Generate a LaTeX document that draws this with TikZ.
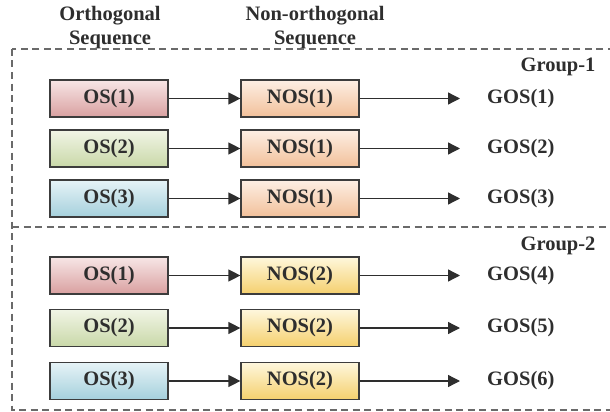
\documentclass[tikz,border=0pt]{standalone}
\usepackage{fontspec}
\setmainfont{Liberation Serif}
\usetikzlibrary{arrows.meta}
\definecolor{txtgray}{HTML}{2E2E2E}
\definecolor{boxline}{HTML}{3C3C3C}
\definecolor{dashgray}{HTML}{6A6A6A}
\definecolor{osatop}{HTML}{F7E6E6}
\definecolor{osabot}{HTML}{D9A0A0}
\definecolor{osbtop}{HTML}{F1F5E6}
\definecolor{osbbot}{HTML}{C9D8A8}
\definecolor{osctop}{HTML}{E6F3F7}
\definecolor{oscbot}{HTML}{A5D0DC}
\definecolor{nosatop}{HTML}{FDEFE4}
\definecolor{nosabot}{HTML}{F2C09A}
\definecolor{nosbtop}{HTML}{FEF7DC}
\definecolor{nosbbot}{HTML}{F5D06E}
\begin{document}
\begin{tikzpicture}[x=1pt,y=-1pt]
			\tikzstyle{seq} = [draw=boxline, line width=1.2pt, minimum width=118pt, minimum height=37pt, inner sep=0pt, text=txtgray, font=\fontsize{20.5}{22}\selectfont\bfseries]
			\tikzstyle{lab} = [inner sep=0pt, text=txtgray, font=\fontsize{20.5}{22}\selectfont\bfseries]
			\tikzstyle{hdr} = [inner sep=0pt, align=center, text=txtgray, font=\fontsize{20.5}{24}\selectfont\bfseries]
			\tikzstyle{arr} = [-{Triangle[length=12pt,width=12pt]}, line width=1.3pt, draw=txtgray, color=txtgray]
			\tikzstyle{grp} = [dashgray, line width=1.1pt, dash pattern=on 7pt off 4.5pt]
			\clip (0,0) rectangle (610,412);
			
			\node [hdr] (h1) at (110,28) {Orthogonal\\Sequence};
			\node [hdr] (h2) at (315,28) {Non-orthogonal\\Sequence};
			
			\draw [grp] (12,49) rectangle (625,410);
			\draw [grp] (12,227) -- (625,227);
			
			\node [lab] (g1) at (558,67) {Group-1};
			\node [lab] (g2) at (558,246) {Group-2};
			
			\node [seq, top color=osatop, bottom color=osabot] (os1) at (109,98.5) {OS(1)};
			\node [seq, top color=osbtop, bottom color=osbbot] (os2) at (109,148.5) {OS(2)};
			\node [seq, top color=osctop, bottom color=oscbot] (os3) at (109,198.5) {OS(3)};
			\node [seq, top color=nosatop, bottom color=nosabot] (nos1) at (300,98.5) {NOS(1)};
			\node [seq, top color=nosatop, bottom color=nosabot] (nos2) at (300,148.5) {NOS(1)};
			\node [seq, top color=nosatop, bottom color=nosabot] (nos3) at (300,198.5) {NOS(1)};
			\node [lab, anchor=west] (gos1) at (487,98.5) {GOS(1)};
			\node [lab, anchor=west] (gos2) at (487,148.5) {GOS(2)};
			\node [lab, anchor=west] (gos3) at (487,198.5) {GOS(3)};
			
			\node [seq, top color=osatop, bottom color=osabot] (os4) at (109,275.5) {OS(1)};
			\node [seq, top color=osbtop, bottom color=osbbot] (os5) at (109,328) {OS(2)};
			\node [seq, top color=osctop, bottom color=oscbot] (os6) at (109,381) {OS(3)};
			\node [seq, top color=nosbtop, bottom color=nosbbot] (nos4) at (300,275.5) {NOS(2)};
			\node [seq, top color=nosbtop, bottom color=nosbbot] (nos5) at (300,328) {NOS(2)};
			\node [seq, top color=nosbtop, bottom color=nosbbot] (nos6) at (300,381) {NOS(2)};
			\node [lab, anchor=west] (gos4) at (487,275.5) {GOS(4)};
			\node [lab, anchor=west] (gos5) at (487,328) {GOS(5)};
			\node [lab, anchor=west] (gos6) at (487,381) {GOS(6)};
			
			\draw [arr] (os1) -- (nos1);
			\draw [arr] (os2) -- (nos2);
			\draw [arr] (os3) -- (nos3);
			\draw [arr] (os4) -- (nos4);
			\draw [arr] (os5) -- (nos5);
			\draw [arr] (os6) -- (nos6);
			
			\draw [arr, shorten >=27pt] (nos1) -- (gos1);
			\draw [arr, shorten >=27pt] (nos2) -- (gos2);
			\draw [arr, shorten >=27pt] (nos3) -- (gos3);
			\draw [arr, shorten >=27pt] (nos4) -- (gos4);
			\draw [arr, shorten >=27pt] (nos5) -- (gos5);
			\draw [arr, shorten >=27pt] (nos6) -- (gos6);
			
		\end{tikzpicture}
\end{document}
